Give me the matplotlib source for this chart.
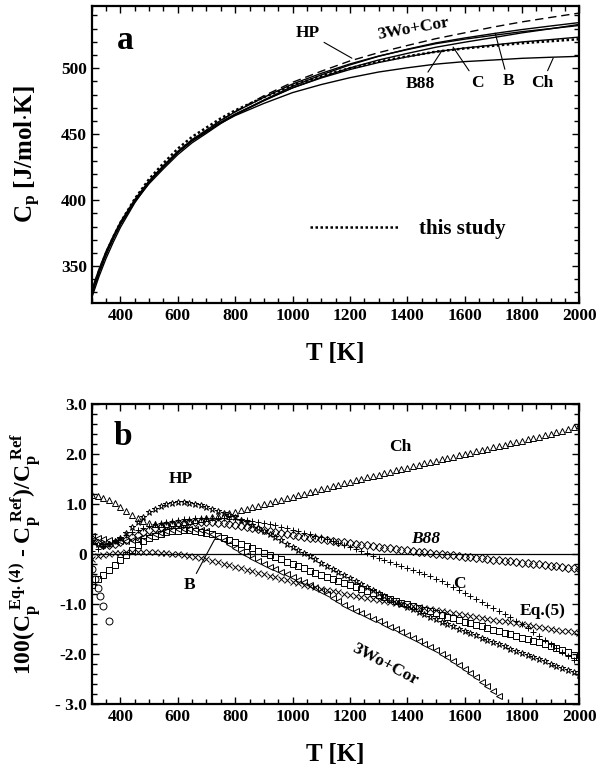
import numpy as np
import matplotlib
matplotlib.use('Agg')
import matplotlib.pyplot as plt
from matplotlib.ticker import MultipleLocator

plt.rcParams.update({'font.family': 'Liberation Serif', 'font.weight': 'bold',
                     'axes.labelweight': 'bold',
                     'mathtext.fontset': 'custom',
                     'mathtext.rm': 'Liberation Serif:bold',
                     'mathtext.it': 'Liberation Serif:bold',
                     'mathtext.bf': 'Liberation Serif:bold'})

## panel a : Cp curves
T_a = [300, 325, 350, 375, 400, 450, 500, 550, 600, 650, 700, 750, 800, 900,
       1000, 1100, 1200, 1300, 1400, 1500, 1600, 1700, 1800, 1900, 2000]
cp_study = [330, 346, 360, 372, 383, 401, 416, 428, 439, 448, 455, 462, 468, 478,
            487, 494, 500, 505, 509, 512.5, 515, 517, 519, 520.5, 522]
cp_HP = [329.2, 345.3, 359.3, 371.1, 381.8, 398.7, 412.5, 423.8, 434.5, 443.5, 450.7,
         458.1, 464.6, 475.8, 486.3, 494.9, 502.5, 509.0, 514.4, 519.2, 522.9, 526.2,
         529.3, 532.0, 534.6]
cp_B = [332.0, 347.7, 361.4, 372.9, 383.5, 400.5, 414.7, 426.2, 437.0, 445.9, 453.1,
        460.5, 466.9, 477.9, 488.0, 496.1, 503.2, 509.2, 514.1, 518.6, 522.0, 524.9,
        527.7, 530.0, 532.4]
cp_C = [329.8, 345.6, 359.4, 371.1, 381.8, 399.2, 413.7, 425.3, 436.0, 444.9, 451.7,
        458.7, 464.8, 475.3, 485.1, 493.1, 500.2, 506.2, 511.2, 515.9, 519.7, 523.2,
        526.8, 529.9, 533.2]
cp_B88 = [329.0, 345.3, 359.4, 371.3, 382.1, 399.6, 414.0, 425.6, 436.3, 445.1, 452.1,
          459.2, 465.3, 475.7, 485.1, 492.6, 499.0, 504.3, 508.6, 512.5, 515.3, 517.6,
          519.9, 521.7, 523.6]
cp_Ch = [326.1, 342.1, 356.0, 368.2, 379.4, 398.0, 413.4, 425.5, 436.3, 445.1, 451.8,
         458.4, 464.1, 473.3, 481.5, 487.6, 492.8, 497.1, 500.3, 503.1, 505.0, 506.2,
         507.5, 508.3, 509.0]
cp_Wo = [328.8, 345.0, 359.0, 371.1, 382.0, 399.8, 414.4, 426.1, 436.8, 445.8, 453.0,
         460.4, 467.1, 479.1, 489.3, 497.7, 505.5, 511.8, 517.2, 522.4, 526.8, 531.2,
         535.1, 538.5, 541.8]

## panel b : deviations (%), every 20 K from 300 K
T_b = np.arange(300, 2001, 20)
dev_Ch = [1.17, 1.15, 1.12, 1.07, 1.01, 0.94, 0.86, 0.78, 0.71, 0.65,
          0.62, 0.60, 0.59, 0.60, 0.61, 0.62, 0.63, 0.65, 0.67, 0.69,
          0.71, 0.73, 0.76, 0.78, 0.81, 0.84, 0.87, 0.90, 0.93, 0.96,
          0.99, 1.02, 1.05, 1.08, 1.11, 1.14, 1.17, 1.20, 1.23, 1.26,
          1.29, 1.32, 1.35, 1.38, 1.41, 1.44, 1.47, 1.50, 1.53, 1.56,
          1.58, 1.61, 1.64, 1.67, 1.70, 1.72, 1.75, 1.78, 1.81, 1.83,
          1.86, 1.89, 1.91, 1.94, 1.97, 1.99, 2.02, 2.05, 2.07, 2.10,
          2.13, 2.15, 2.18, 2.21, 2.23, 2.26, 2.29, 2.31, 2.34, 2.37,
          2.40, 2.43, 2.46, 2.50, 2.54, 2.58]
dev_HP = [0.25, 0.20, 0.18, 0.20, 0.25, 0.32, 0.42, 0.53, 0.64, 0.74,
          0.83, 0.90, 0.95, 0.99, 1.02, 1.03, 1.03, 1.02, 1.00, 0.97,
          0.94, 0.90, 0.86, 0.82, 0.78, 0.73, 0.68, 0.63, 0.57, 0.51,
          0.45, 0.39, 0.33, 0.27, 0.20, 0.14, 0.08, 0.02, -0.05, -0.11,
          -0.18, -0.24, -0.30, -0.37, -0.43, -0.49, -0.55, -0.61, -0.67, -0.73,
          -0.79, -0.85, -0.90, -0.96, -1.01, -1.06, -1.11, -1.16, -1.21, -1.26,
          -1.31, -1.36, -1.40, -1.45, -1.50, -1.54, -1.59, -1.63, -1.68, -1.72,
          -1.77, -1.81, -1.85, -1.90, -1.94, -1.98, -2.03, -2.07, -2.11, -2.15,
          -2.20, -2.24, -2.28, -2.33, -2.37, -2.42]
dev_B = [-0.62, -0.50, -0.42, -0.33, -0.22, -0.12, -0.02, 0.08, 0.17, 0.25,
         0.31, 0.36, 0.40, 0.43, 0.45, 0.46, 0.47, 0.47, 0.46, 0.44,
         0.42, 0.39, 0.35, 0.31, 0.27, 0.23, 0.19, 0.15, 0.11, 0.06,
         0.02, -0.02, -0.07, -0.11, -0.16, -0.20, -0.25, -0.29, -0.34, -0.38,
         -0.42, -0.47, -0.51, -0.55, -0.59, -0.63, -0.67, -0.71, -0.75, -0.79,
         -0.83, -0.87, -0.90, -0.94, -0.98, -1.01, -1.05, -1.08, -1.12, -1.15,
         -1.19, -1.22, -1.26, -1.29, -1.32, -1.36, -1.39, -1.42, -1.45, -1.49,
         -1.52, -1.55, -1.58, -1.61, -1.64, -1.68, -1.71, -1.74, -1.77, -1.80,
         -1.84, -1.88, -1.92, -1.97, -2.02, -2.07]
dev_C = [0.05, 0.10, 0.15, 0.20, 0.26, 0.32, 0.38, 0.43, 0.48, 0.52,
         0.56, 0.59, 0.62, 0.64, 0.66, 0.68, 0.69, 0.70, 0.71, 0.72,
         0.72, 0.72, 0.72, 0.71, 0.70, 0.69, 0.68, 0.67, 0.66, 0.64,
         0.62, 0.60, 0.57, 0.54, 0.51, 0.48, 0.45, 0.42, 0.39, 0.36,
         0.33, 0.30, 0.26, 0.22, 0.18, 0.14, 0.10, 0.06, 0.01, -0.04,
         -0.08, -0.12, -0.16, -0.20, -0.24, -0.28, -0.32, -0.36, -0.40, -0.45,
         -0.50, -0.55, -0.60, -0.66, -0.72, -0.78, -0.84, -0.90, -0.96, -1.02,
         -1.08, -1.14, -1.20, -1.27, -1.34, -1.41, -1.48, -1.56, -1.64, -1.72,
         -1.80, -1.88, -1.96, -2.04, -2.12, -2.20]
dev_B88 = [0.30, 0.22, 0.18, 0.17, 0.19, 0.23, 0.28, 0.33, 0.38, 0.43,
           0.47, 0.51, 0.54, 0.57, 0.59, 0.61, 0.62, 0.63, 0.64, 0.64,
           0.64, 0.63, 0.62, 0.61, 0.60, 0.58, 0.56, 0.54, 0.52, 0.50,
           0.48, 0.46, 0.44, 0.42, 0.40, 0.38, 0.36, 0.34, 0.32, 0.31,
           0.29, 0.27, 0.26, 0.24, 0.23, 0.21, 0.20, 0.18, 0.17, 0.15,
           0.14, 0.12, 0.11, 0.10, 0.08, 0.07, 0.06, 0.04, 0.03, 0.02,
           0.00, -0.01, -0.02, -0.03, -0.05, -0.06, -0.07, -0.08, -0.09, -0.11,
           -0.12, -0.13, -0.14, -0.15, -0.17, -0.18, -0.19, -0.20, -0.21, -0.23,
           -0.24, -0.25, -0.27, -0.28, -0.29, -0.31]
dev_Eq5 = [-0.10, -0.05, -0.02, 0.00, 0.01, 0.02, 0.03, 0.03, 0.03, 0.03,
           0.03, 0.03, 0.02, 0.01, 0.00, -0.01, -0.03, -0.05, -0.07, -0.09,
           -0.11, -0.14, -0.17, -0.20, -0.23, -0.26, -0.29, -0.32, -0.35, -0.38,
           -0.41, -0.44, -0.47, -0.50, -0.53, -0.56, -0.59, -0.62, -0.65, -0.67,
           -0.70, -0.72, -0.75, -0.77, -0.80, -0.82, -0.84, -0.86, -0.88, -0.90,
           -0.92, -0.94, -0.96, -0.98, -1.00, -1.02, -1.04, -1.06, -1.08, -1.10,
           -1.12, -1.14, -1.16, -1.18, -1.20, -1.22, -1.24, -1.26, -1.28, -1.30,
           -1.32, -1.34, -1.35, -1.37, -1.39, -1.41, -1.43, -1.45, -1.46, -1.48,
           -1.50, -1.52, -1.54, -1.55, -1.57, -1.59]
dev_Wo = [0.35, 0.32, 0.29, 0.27, 0.26, 0.25, 0.26, 0.28, 0.30, 0.33,
          0.36, 0.39, 0.42, 0.45, 0.47, 0.49, 0.50, 0.50, 0.50, 0.48,
          0.45, 0.40, 0.34, 0.27, 0.19, 0.11, 0.04, -0.03, -0.09, -0.15,
          -0.21, -0.26, -0.31, -0.36, -0.41, -0.47, -0.52, -0.57, -0.62, -0.68,
          -0.74, -0.81, -0.88, -0.95, -1.02, -1.09, -1.14, -1.19, -1.24, -1.30,
          -1.35, -1.40, -1.46, -1.51, -1.57, -1.62, -1.68, -1.74, -1.80, -1.86,
          -1.93, -2.00, -2.07, -2.14, -2.22, -2.30, -2.38, -2.47, -2.56, -2.65,
          -2.75, -2.85]
T_circ = [300, 310, 320, 330, 340, 360]
dev_circ = [-0.30, -0.50, -0.68, -0.85, -1.05, -1.35]


def style_axes(ax):
    for s in ax.spines.values():
        s.set_linewidth(1.6)
    ax.tick_params(which='both', direction='in', top=True, right=True,
                   labelsize=12.5, width=1.0)
    ax.tick_params(which='major', length=5)
    ax.tick_params(which='minor', length=3.5)
    ax.set_xlim(300, 2000)
    ax.xaxis.set_major_locator(MultipleLocator(200))
    ax.xaxis.set_minor_locator(MultipleLocator(50))
    ax.set_xlabel('T [K]', fontsize=18)
    ax.xaxis.set_label_coords(0.5, -0.13)


fig = plt.figure(figsize=(6.04, 7.76), dpi=100)
ax1 = fig.add_axes([0.152, 0.6095, 0.807, 0.3825])
ax2 = fig.add_axes([0.152, 0.0928, 0.807, 0.3866])

## ---- panel a
lw = 1.0
ax1.plot(T_a, cp_Wo, color='k', lw=lw, dashes=(6, 3.5))
ax1.plot(T_a, cp_HP, color='k', lw=lw)
ax1.plot(T_a, cp_B, color='k', lw=lw)
ax1.plot(T_a, cp_C, color='k', lw=lw)
ax1.plot(T_a, cp_B88, color='k', lw=lw)
ax1.plot(T_a, cp_Ch, color='k', lw=lw)
ax1.plot(T_a, cp_study, color='k', lw=1.8, ls=(0, (1, 1)), label='this study')
style_axes(ax1)
ax1.set_ylim(322, 547)
ax1.yaxis.set_major_locator(MultipleLocator(50))
ax1.yaxis.set_minor_locator(MultipleLocator(10))
ax1.set_ylabel(r'C$_\mathrm{p}$ [J/mol$\cdot$K]', fontsize=18)
ax1.yaxis.set_label_coords(-0.1, 0.5)
ax1.text(0.068, 0.885, 'a', transform=ax1.transAxes, fontsize=24,
         ha='center', va='center')
ax1.legend(loc='center left', bbox_to_anchor=(0.448, 0.249), frameon=False,
           fontsize=15, handlelength=4.2, handletextpad=1.0,
           borderpad=0, borderaxespad=0)

lab_kw = dict(fontsize=12.5, ha='center', va='center')
arr = dict(arrowstyle='-', lw=0.8, color='k', shrinkA=1, shrinkB=0)
ax1.annotate('HP', xy=(1207, 507.6), xytext=(1054, 526.5), arrowprops=arr, **lab_kw)
ax1.text(1420, 530, '3Wo+Cor', rotation=10, **lab_kw)
ax1.annotate('B88', xy=(1522, 513.6), xytext=(1445, 488), arrowprops=arr, **lab_kw)
ax1.annotate('C', xy=(1560, 516), xytext=(1644, 489), arrowprops=arr, **lab_kw)
ax1.annotate('B', xy=(1707, 526.5), xytext=(1752, 490), arrowprops=arr, **lab_kw)
ax1.annotate('Ch', xy=(1909, 507.6), xytext=(1871, 489), arrowprops=arr, **lab_kw)

## ---- panel b
mk = dict(ls='none', color='k', mfc='none', ms=5, mew=0.7)
ax2.axhline(0, color='k', lw=0.9)
ax2.plot(T_b, dev_Ch, marker='^', **mk)
ax2.plot(T_b, dev_HP, marker='*', **mk)
ax2.plot(T_b, dev_B, marker='s', **mk)
ax2.plot(T_b, dev_C, marker='+', **mk)
ax2.plot(T_b, dev_B88, marker='D', **dict(mk, ms=4.5))
ax2.plot(T_b, dev_Eq5, marker='x', **mk)
ax2.plot(T_b[:len(dev_Wo)], dev_Wo, marker='<', **mk)
ax2.plot(T_circ, dev_circ, marker='o', **mk)
style_axes(ax2)
ax2.set_ylim(-3, 3)
ax2.yaxis.set_major_locator(MultipleLocator(1))
ax2.yaxis.set_minor_locator(MultipleLocator(0.2))
ax2.set_yticks([-3, -2, -1, 0, 1, 2, 3])
ax2.set_yticklabels(['- 3.0', '-2.0', '-1.0', '0', '1.0', '2.0', '3.0'])
ax2.set_ylabel(r'100(C$_\mathrm{p}^{\ Eq.(4)}$ - C$_\mathrm{p}^{\ Ref}$)/C$_\mathrm{p}^{\ Ref}$',
               fontsize=17)
ax2.yaxis.set_label_coords(-0.1, 0.5)
ax2.text(0.064, 0.89, 'b', transform=ax2.transAxes, fontsize=24,
         ha='center', va='center')

ax2.text(1375, 2.13, 'Ch', **lab_kw)
ax2.text(609, 1.49, 'HP', **lab_kw)
ax2.text(1463, 0.3, 'B88', style='italic', **lab_kw)
ax2.text(1583, -0.6, 'C', **lab_kw)
ax2.text(1872, -1.15, 'Eq.(5)', **lab_kw)
ax2.annotate('B', xy=(729, 0.3), xytext=(642, -0.63), arrowprops=arr, **lab_kw)
ax2.text(1322, -2.2, '3Wo+Cor', rotation=-28, **lab_kw)

plt.savefig('out.png', dpi=100)
